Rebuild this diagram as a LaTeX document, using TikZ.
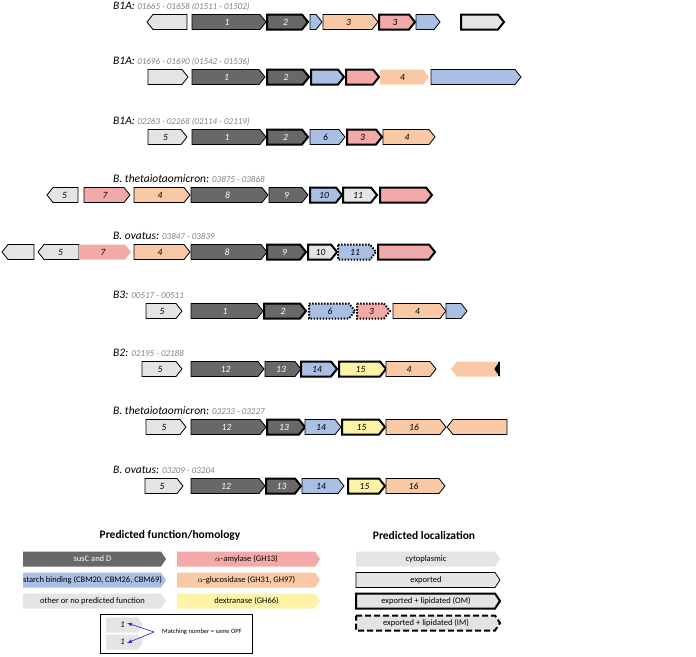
\documentclass[tikz,border=0pt]{standalone}
\usepackage{fontspec}
\setmainfont{Carlito}
\definecolor{dk}{HTML}{686868}
\definecolor{bl}{HTML}{A9BFE3}
\definecolor{pe}{HTML}{F9C9A5}
\definecolor{pk}{HTML}{F4A9A9}
\definecolor{lg}{HTML}{E4E4E4}
\definecolor{ye}{HTML}{FCF3A7}
\tikzset{
 thin/.style={draw=black,line width=0.8pt},
 thk/.style={draw=black,line width=2pt},
 dot/.style={draw=black,line width=2pt,dash pattern=on 1.5pt off 1.5pt},
 dsh/.style={draw=black,line width=2pt,dash pattern=on 6pt off 3pt},
 nob/.style={draw=none},
 lbl/.style={font=\itshape\fontsize{9.5}{10}\selectfont,inner sep=0pt},
 leg/.style={font=\fontsize{8.5}{9}\selectfont,inner sep=0pt},
 ttl/.style={anchor=west,inner sep=0pt}
}
\newcommand\gr[7][black]{\path[#6,fill=#5,line join=miter] (#2,#4-7.5) -- (#3-6,#4-7.5) -- (#3,#4) -- (#3-6,#4+7.5) -- (#2,#4+7.5) -- cycle;
 \node[lbl,text=#1] at ({(#2+#3)/2-2},#4) {#7};}
\newcommand\gl[7][black]{\path[#6,fill=#5,line join=miter] (#3,#4-7.5) -- (#2+6,#4-7.5) -- (#2,#4) -- (#2+6,#4+7.5) -- (#3,#4+7.5) -- cycle;
 \node[lbl,text=#1] at ({(#2+#3)/2+2},#4) {#7};}
\newcommand\ttlt[3]{\node[ttl] at (113,#1) {{\itshape\fontsize{11.5}{12}\selectfont #2} {\itshape\color{gray}\fontsize{9}{10}\selectfont #3}};}
\newcommand\legb[7]{\path[#5,fill=#4] (#1,#3-7.5) -- (#2-5,#3-7.5) -- (#2,#3) -- (#2-5,#3+7.5) -- (#1,#3+7.5) -- cycle;
 \node[leg,text=#6] at ({(#1+#2)/2-2},#3) {#7};}
\begin{document}
\begin{tikzpicture}[x=1pt,y=-1pt]
\useasboundingbox (0,0) rectangle (696,656);
% row 1
\ttlt{6}{B1A:}{01665 - 01658 (01511 - 01502)}
\gl{147}{187}{22}{lg}{thin}{}
\gr[white]{192}{266}{22}{dk}{thin}{1}
\gr[white]{267}{308}{22}{dk}{thk}{2}
\gr{310}{322}{22}{bl}{thin}{}
\gr{323}{378}{22}{pe}{thin}{3}
\gr{379}{415}{22}{pk}{thk}{3}
\gr{416}{440}{22}{bl}{thin}{}
\gr{461}{504}{22}{lg}{thk}{}
% row 2
\ttlt{61}{B1A:}{01696 - 01690 (01542 - 01536)}
\gr{148}{188}{77}{lg}{thin}{}
\gr[white]{192}{265}{77}{dk}{thin}{1}
\gr[white]{267}{309}{77}{dk}{thk}{2}
\gr{311}{344}{77}{bl}{thk}{}
\gr{346}{379}{77}{pk}{thk}{}
\gr{380}{429}{77}{pe}{nob}{4}
\gr{431}{521}{77}{bl}{thin}{}
% row 3
\ttlt{121}{B1A:}{02263 - 02268 (02114 - 02119)}
\gr{148}{187}{137}{lg}{thin}{5}
\gr[white]{192}{266}{137}{dk}{thin}{1}
\gr[white]{267}{308}{137}{dk}{thk}{2}
\gr{310}{345}{137}{bl}{thin}{6}
\gr{347}{382}{137}{pk}{thk}{3}
\gr{383}{435}{137}{pe}{thin}{4}
% row 4
\ttlt{179}{B. thetaiotaomicron:}{03875 - 03868}
\gl{47}{78}{195}{lg}{thin}{5}
\gr{84}{130}{195}{pk}{thin}{7}
\gr{134}{190}{195}{pe}{thin}{4}
\gr[white]{191}{268}{195}{dk}{thin}{8}
\gr[white]{269}{308}{195}{dk}{thin}{9}
\gr{310}{342}{195}{bl}{thk}{10}
\gr{343}{377}{195}{lg}{thk}{11}
\gr{380}{432}{195}{pk}{thk}{}
% row 5
\ttlt{236}{B. ovatus:}{03847 - 03839}
\gl{2}{34}{252}{lg}{thin}{}
\gl{38}{79}{252}{lg}{thin}{5}
\gr{79}{131}{252}{pk}{nob}{7}
\gr{134}{190}{252}{pe}{thin}{4}
\gr[white]{191}{267}{252}{dk}{thin}{8}
\gr[white]{267}{306}{252}{dk}{thk}{9}
\gr{308}{337}{252}{lg}{thk}{10}
\gr{338}{376}{252}{bl}{dot}{11}
\gr{378}{435}{252}{pk}{thk}{}
\draw[bl,line width=3pt,dash pattern=on 3pt off 3pt] (383,252) -- (426,252);
% row 6
\ttlt{295}{B3:}{00517 - 00511}
\gr{146}{182}{311}{lg}{thin}{5}
\gr[white]{191}{263}{311}{dk}{thin}{1}
\gr[white]{264}{306}{311}{dk}{thk}{2}
\gr{309}{355}{311}{bl}{dot}{6}
\gr{357}{390}{311}{pk}{dot}{3}
\gr{393}{446}{311}{pe}{thin}{4}
\gr{446}{467}{311}{bl}{thin}{}
% row 7
\ttlt{353}{B2:}{02195 - 02188}
\gr{142}{182}{369}{lg}{thin}{5}
\gr[white]{191}{264}{369}{dk}{thin}{12}
\gr[white]{265}{301}{369}{dk}{thin}{13}
\gr{301}{337}{369}{bl}{thk}{14}
\gr{339}{386}{369}{ye}{thk}{15}
\gr{386}{436}{369}{pe}{thin}{4}
\gl{451}{497}{369}{pe}{nob}{}
\draw[line width=2pt] (499,362) -- (499,376);
\draw[line width=1pt,fill=black] (499,363) -- (495,369) -- (499,375) -- cycle;
% row 8
\ttlt{411}{B. thetaiotaomicron:}{03233 - 03227}
\gr{146}{186}{427}{lg}{thin}{5}
\gr[white]{191}{266}{427}{dk}{thin}{12}
\gr[white]{267}{305}{427}{dk}{thk}{13}
\gr{305}{341}{427}{bl}{thin}{14}
\gr{342}{385}{427}{ye}{thk}{15}
\gr{386}{446}{427}{pe}{thin}{16}
\gl{447}{507}{427}{pe}{thin}{}
% row 9
\ttlt{470}{B. ovatus:}{03209 - 03204}
\gr{145}{183}{486}{lg}{thin}{5}
\gr[white]{191}{265}{486}{dk}{thin}{12}
\gr[white]{266}{301}{486}{dk}{thk}{13}
\gr{302}{344}{486}{bl}{thin}{14}
\gr{348}{385}{486}{ye}{thk}{15}
\gr{386}{445}{486}{pe}{thin}{16}
% legend
\node[font=\bfseries\fontsize{11.5}{12}\selectfont] (lt1) at (170,535) {Predicted function/homology};
\node[font=\bfseries\fontsize{11.5}{12}\selectfont] (lt2) at (424,535) {Predicted localization};
\legb{23}{166}{559}{dk}{nob}{white}{susC and D}
\legb{23}{166}{580}{bl}{nob}{black}{starch binding (CBM20, CBM26, CBM69)}
\legb{23}{166}{601}{lg}{nob}{black}{other or no predicted function}
\legb{177}{320}{559}{pk}{nob}{black}{$\alpha$-amylase (GH13)}
\legb{177}{320}{580}{pe}{nob}{black}{$\alpha$-glucosidase (GH31, GH97)}
\legb{177}{320}{601}{ye}{nob}{black}{dextranase (GH66)}
\legb{356}{500}{559}{lg}{nob}{black}{cytoplasmic}
\legb{356}{500}{580}{lg}{thin}{black}{exported}
\legb{356}{500}{601}{lg}{thk}{black}{exported + lipidated (OM)}
\legb{356}{500}{623}{lg}{dsh}{black}{exported + lipidated (IM)}
% inset
\draw[line width=0.8pt] (100,614) rectangle (252,653);
\legb{106}{143}{625}{lg}{nob}{black}{\itshape 1}
\legb{106}{143}{642}{lg}{nob}{black}{\itshape 1}
\coordinate (src) at (154,632);
\node[anchor=west,inner sep=0pt,font=\fontsize{6.5}{7}\selectfont] (mt) at (162,632) {Matching number = same OPF};
\draw[-latex,blue!60!gray,line width=0.7pt] (src) -- (127,623);
\draw[-latex,blue!60!gray,line width=0.7pt] (src) -- (127,643);
\end{tikzpicture}
\end{document}
